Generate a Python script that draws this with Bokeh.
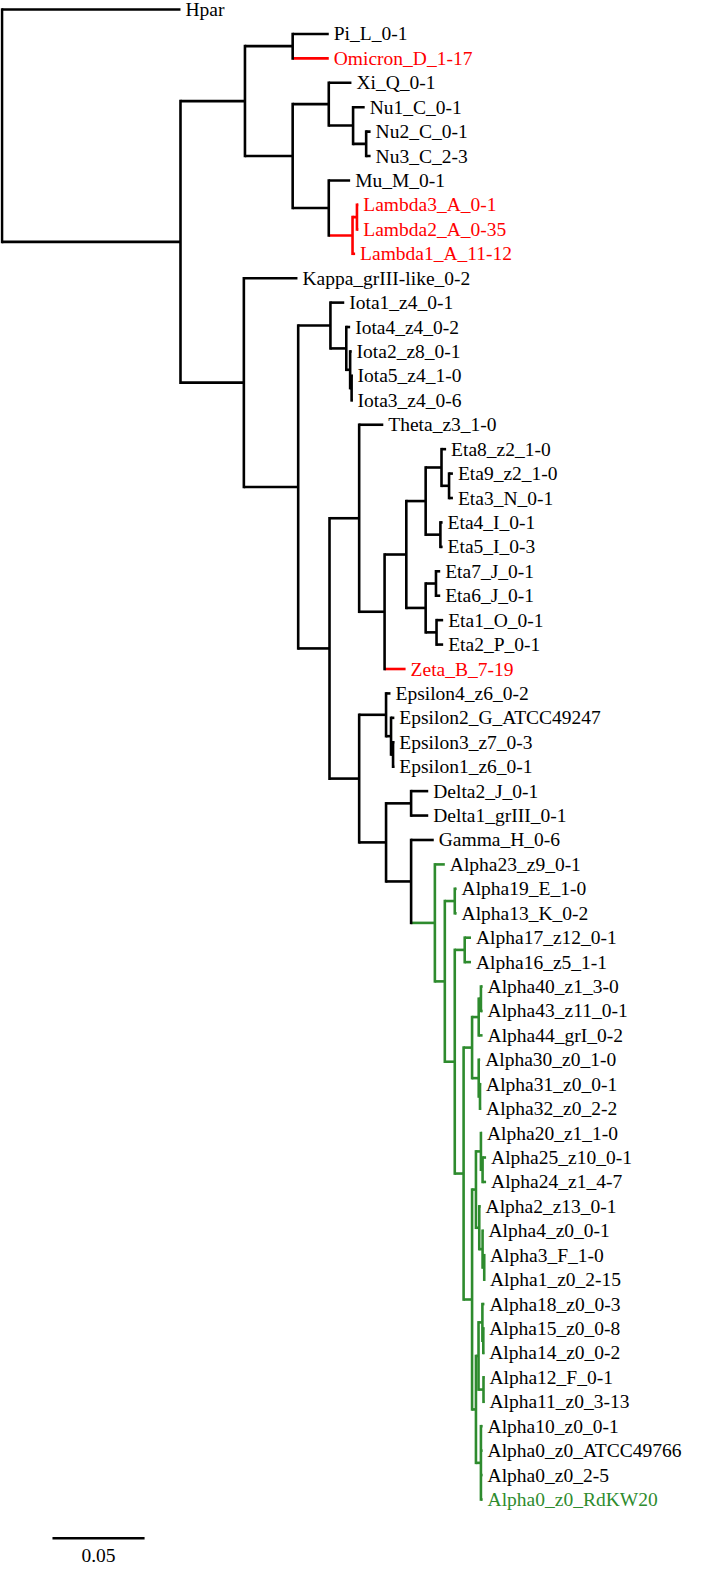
from bokeh.plotting import figure
from bokeh.models import Range1d, ColumnDataSource
from bokeh.embed import file_html
from bokeh.resources import INLINE
from bokeh.core.properties import value

# ---------------- data: tree topology + branch lengths (substitutions/site) ----------------
upper_clade = ("((Pi_L_0-1:0.0196,Omicron_D_1-17:0.0196):0.0259,"
               "((Xi_Q_0-1:0.0123,(Nu1_C_0-1:0.0063,(Nu2_C_0-1:0.0024,Nu3_C_2-3:0.0024):0.0071):0.0132):0.0196,"
               "(Mu_M_0-1:0.0116,((Lambda3_A_0-1:0.0007,Lambda2_A_0-35:0.0007):0.0024,Lambda1_A_11-12:0.0014):0.0129):0.0196):0.0259):0.0350")
iota_clade = ("(Iota1_z4_0-1:0.0075,(Iota4_z4_0-2:0.0021,(Iota2_z8_0-1:0.0008,"
              "(Iota5_z4_1-0:0.0005,Iota3_z4_0-6:0.0005):0.0008):0.0021):0.0086):0.0175")
eta_zeta_clade = ("(Theta_z3_1-0:0.0131,((((Eta8_z2_1-0:0.0025,(Eta9_z2_1-0:0.0021,Eta3_N_0-1:0.0021):0.0041):0.0086,"
                  "(Eta4_I_0-1:0.0012,Eta5_I_0-3:0.0012):0.0080):0.0105,"
                  "((Eta7_J_0-1:0.0023,Eta6_J_0-1:0.0023):0.0056,(Eta1_O_0-1:0.0036,Eta2_P_0-1:0.0036):0.0059):0.0105):0.0118,"
                  "Zeta_B_7-19:0.0114):0.0138):0.0161")
alpha_p = ("(((Alpha40_z1_3-0:0.0009,Alpha43_z11_0-1:0.0009):0.0012,Alpha44_grI_0-2:0.0021):0.0036,"
           "(Alpha30_z0_1-0:0.0008,(Alpha31_z0_0-1:0.0006,Alpha32_z0_2-2:0.0006):0.0007):0.0036):0.0046")
alpha_s = ("((Alpha20_z1_1-0:0.0006,(Alpha25_z10_0-1:0.0019,Alpha24_z1_4-7:0.0019):0.0009):0.0027,"
           "(Alpha2_z13_0-1:0.0007,(Alpha4_z0_0-1:0.0005,(Alpha3_F_1-0:0.0004,Alpha1_z0_2-15:0.0004):0.0009):0.0018):0.0018):0.0021")
alpha_t = ("(((Alpha18_z0_0-3:0.0011,(Alpha15_z0_0-8:0.0005,Alpha14_z0_0-2:0.0005):0.0005):0.0021,"
           "(Alpha12_F_0-1:0.0005,Alpha11_z0_3-13:0.0005):0.0027):0.0014,"
           "(Alpha10_z0_0-1:0.0009,Alpha0_z0_ATCC49766:0.0009,Alpha0_z0_2-5:0.0009,Alpha0_z0_RdKW20:0.0009):0.0027):0.0021")
alpha_clade = ("(Alpha23_z9_0-1:0.0054,((Alpha19_E_1-0:0.0010,Alpha13_K_0-2:0.0010):0.0054,"
               "((Alpha17_z12_0-1:0.0034,Alpha16_z5_1-1:0.0034):0.0054,"
               "(" + alpha_p + ",(" + alpha_s + "," + alpha_t + "):0.0046):0.0048):0.0054):0.0054):0.0129")
epsilon_delta_clade = ("((Epsilon4_z6_0-2:0.0024,(Epsilon2_G_ATCC49247:0.0018,(Epsilon3_z7_0-3:0.0007,Epsilon1_z6_0-1:0.0007):0.0011):0.0027):0.0146,"
                       "((Delta2_J_0-1:0.0093,Delta1_grIII_0-1:0.0093):0.0136,(Gamma_H_0-6:0.0123," + alpha_clade + "):0.0136):0.0146):0.0161")
lower_clade = ("(Kappa_grIII-like_0-2:0.0291,(" + iota_clade + ",(" + eta_zeta_clade + "," + epsilon_delta_clade + "):0.0170):0.0295):0.0344")
newick = "(Hpar:0.0969,(" + upper_clade + "," + lower_clade + "):0.0969);"

red_branch_clades = [["Lambda3_A_0-1", "Lambda2_A_0-35", "Lambda1_A_11-12"], ["Omicron_D_1-17"], ["Zeta_B_7-19"]]
red_labels = ["Omicron_D_1-17", "Lambda3_A_0-1", "Lambda2_A_0-35", "Lambda1_A_11-12", "Zeta_B_7-19"]
green_labels = ["Alpha0_z0_RdKW20"]
scale_bar_length = 0.05
scale_bar_label = "0.05"

RED = "#FF0000"
GREEN = "#2E8B2E"
BLACK = "#000000"

# ---------------- parse ----------------
def parse(s):
    pos = 0

    def node():
        nonlocal pos
        n = {"children": [], "name": "", "len": 0.0}
        if s[pos] == "(":
            pos += 1
            while True:
                n["children"].append(node())
                if s[pos] == ",":
                    pos += 1
                    continue
                if s[pos] == ")":
                    pos += 1
                    break
        start = pos
        while pos < len(s) and s[pos] not in ",();":
            pos += 1
        tok = s[start:pos]
        if ":" in tok:
            nm, bl = tok.split(":")
            n["name"] = nm
            n["len"] = float(bl)
        else:
            n["name"] = tok
        return n

    return node()

root = parse(newick)
leaves = []

def layout(n, x, parent):
    n["x"] = x + n["len"]
    n["parent"] = parent
    if not n["children"]:
        n["y"] = float(len(leaves))
        leaves.append(n)
        n["leafset"] = {n["name"]}
    else:
        for c in n["children"]:
            layout(c, n["x"], n)
        n["y"] = (n["children"][0]["y"] + n["children"][-1]["y"]) / 2.0
        n["leafset"] = set().union(*[c["leafset"] for c in n["children"]])

layout(root, 0.0, None)

def all_nodes(n):
    yield n
    for c in n["children"]:
        yield from all_nodes(c)

def mrca(names):
    best = root
    names = set(names)
    for n in all_nodes(root):
        if names <= n["leafset"] and len(n["leafset"]) < len(best["leafset"]):
            best = n
    return best

def paint(n, col):
    n["color"] = col
    for c in n["children"]:
        paint(c, col)

paint(root, BLACK)
green_clade = [l["name"] for l in leaves if l["name"].startswith("Alpha")]
paint(mrca(green_clade), GREEN)
for cl in red_branch_clades:
    paint(mrca(cl), RED)

# ---------------- segments ----------------
hx0, hx1, hy, hc = [], [], [], []
vx, vy0, vy1, vc = [], [], [], []
for n in all_nodes(root):
    if n["parent"] is not None:
        hx0.append(n["parent"]["x"]); hx1.append(n["x"]); hy.append(n["y"]); hc.append(n["color"])
    if n["children"]:
        vx.append(n["x"]); vy0.append(n["children"][0]["y"]); vy1.append(n["children"][-1]["y"]); vc.append(n["color"])

# ---------------- figure ----------------
W, H = 686, 1568
px_per_unit = 1842.0
row = 24.426
x0 = -1.5 / px_per_unit
y_top = -9.0 / row
p = figure(width=W, height=H, output_backend="svg", toolbar_location=None,
           x_range=Range1d(x0, x0 + W / px_per_unit),
           y_range=Range1d(y_top + H / row, y_top),
           x_axis_location=None, y_axis_location=None, min_border=0)
p.grid.visible = False
p.outline_line_color = None
p.background_fill_color = "white"
p.border_fill_color = "white"

lw = 2.6
p.segment(x0=hx0, y0=hy, x1=hx1, y1=hy, line_color=hc, line_width=lw, line_cap="butt")
p.segment(x0=vx, y0=vy0, x1=vx, y1=vy1, line_color=vc, line_width=lw, line_cap="square")

lab_col = [RED if l["name"] in red_labels else GREEN if l["name"] in green_labels else BLACK for l in leaves]
src = ColumnDataSource(dict(x=[l["x"] for l in leaves], y=[l["y"] for l in leaves],
                            t=[l["name"] for l in leaves], c=lab_col))
p.text(x="x", y="y", text="t", text_color="c", source=src, x_offset=5,
       text_baseline="middle", text_align="left",
       text_font=value("Liberation Serif"), text_font_size="19.5px")

# scale bar
sb_x = 0.0274
sb_y = 62.585
p.segment(x0=[sb_x], y0=[sb_y], x1=[sb_x + scale_bar_length], y1=[sb_y], line_color=BLACK, line_width=lw)
p.text(x=[sb_x + scale_bar_length / 2], y=[63.30], text=[scale_bar_label], text_align="center",
       text_baseline="middle", text_font=value("Liberation Serif"), text_font_size="19.5px", text_color=BLACK)

open("out.html", "w").write(file_html(p, INLINE))
